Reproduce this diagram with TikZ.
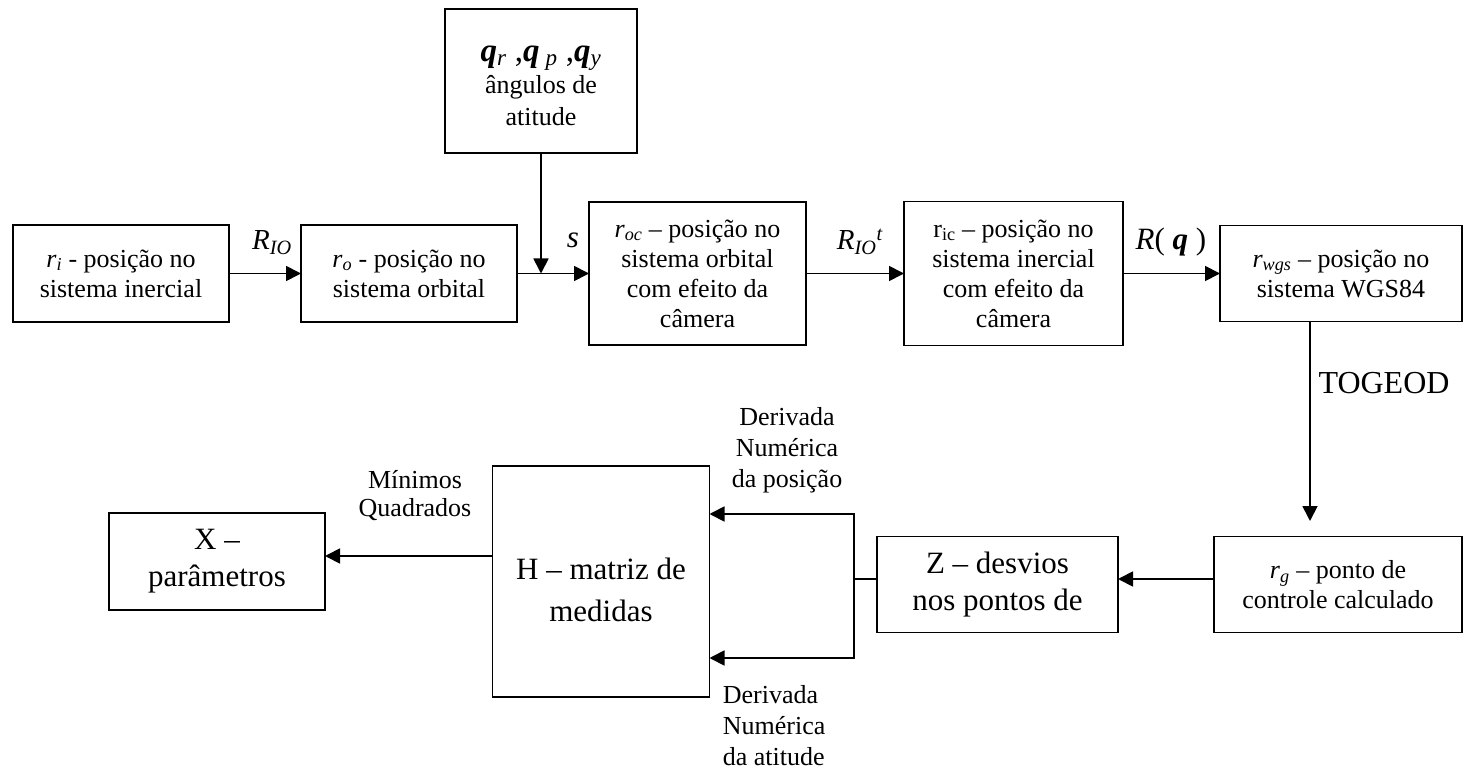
\documentclass[tikz,border=0pt]{standalone}
\usepackage{fontspec}
\setmainfont{Liberation Serif}
\usepackage{tikz}
\usetikzlibrary{positioning,arrows.meta}
\tikzset{>={Triangle[length=15pt,width=15pt]}}
\tikzset{
  blk/.style={draw=black, line width=1.8pt, align=center, inner sep=0pt, outer sep=0pt, font=\fontsize{26}{30}\selectfont},
  big/.style={blk, font=\fontsize{31}{37}\selectfont},
  lbl/.style={align=center, inner sep=0pt, font=\fontsize{26}{30}\selectfont},
}
\def\myit#1#2{\textit{#1}\textsubscript{\textit{#2}}}
\def\myq{\textbf{\textit{q}}}

\begin{document}
\begin{tikzpicture}[x=1pt, y=-1pt, line width=1.8pt]
          \useasboundingbox (0,0) rectangle (1465,770);
          \node[blk, minimum width=216pt, minimum height=97pt] (ri) at (121,273.5) {\myit{r}{i} - posição no\\sistema inercial};
          \node[blk, minimum width=216pt, minimum height=97pt, right=72pt of ri] (ro) {\myit{r}{o} - posição no\\sistema orbital};
          \node[blk, minimum width=217pt, minimum height=143pt, right=72pt of ro] (roc) {\myit{r}{oc} – posição no\\sistema orbital\\com efeito da\\câmera};
          \node[blk, minimum width=219pt, minimum height=144pt, right=98pt of roc] (ric) {r\textsubscript{ic} – posição no\\sistema inercial\\com efeito da\\câmera};
          \node[blk, minimum width=242pt, minimum height=96pt, right=97pt of ric] (wgs) {\myit{r}{wgs} – posição no\\sistema WGS84};
          \node[blk, minimum width=192pt, minimum height=144pt, text height=90pt, font=\fontsize{26}{32}\selectfont] (att) at (541,81) {{\fontsize{33}{33}\selectfont\myq\textsubscript{\textit{r}} ,\myq\textsubscript{ \textit{p}} ,\myq\textsubscript{\textit{y}}}\\ângulos de\\atitude};
          \node[blk, minimum width=248pt, minimum height=96pt, below=215pt of wgs.south east, anchor=north east] (rg) {\myit{r}{g} – ponto de\\controle calculado};
          \node[big, minimum width=241pt, minimum height=96pt, left=96pt of rg] (Z) {Z – desvios\\nos pontos de};
          \node[big, minimum width=217pt, minimum height=231pt, text height=80pt] (H) at (601,581.5) {H – matriz de\\[5pt]medidas};
          \node[big, minimum width=216pt, minimum height=97pt] (X) at (217,561.5) {X –\\parâmetros};

          \node[lbl, font=\fontsize{29}{30}\selectfont] (lrio) at (272,243) {\myit{R}{IO}};
          \node[lbl, font=\fontsize{31}{30}\selectfont] (ls) at (573,240) {\textit{s}};
          \node[lbl, font=\fontsize{29}{30}\selectfont] (lriot) at (860,242) {\textit{R}\textsubscript{\textit{IO}}\textsuperscript{\textit{t}}};
          \node[lbl, font=\fontsize{31}{30}\selectfont] (lrq) at (1171,242) {\textit{R}( \myq\ )};
          \node[lbl, font=\fontsize{32}{32}\selectfont] (ltog) at (1384,383) {TOGEOD};
          \node[lbl, font=\fontsize{26}{28}\selectfont] (lmq) at (415,496) {Mínimos\\Quadrados};
          \node[lbl, font=\fontsize{26}{31}\selectfont] (ldp) at (787,450) {Derivada\\Numérica\\da posição};
          \node[lbl, font=\fontsize{26}{31}\selectfont, align=left, anchor=west] (lda) at (722,726) {Derivada\\Numérica\\da atitude};

          \coordinate (jn) at (att.south |- ro.east);
          \coordinate (tg) at (1310,521);
          \coordinate (sp) at (854,579);

          \path[draw=black,->] (ri) edge (ro);
          \path[draw=black,->] (att) edge (jn);
          \path[draw=black,->] (ro) edge (roc);
          \path[draw=black,->] (roc) edge (ric);
          \path[draw=black,->] (ric) edge (wgs);
          \draw[->] (tg |- wgs.south) -- (tg);
          \draw[->] (rg.west |- sp) -- (Z.east |- sp);
          \draw (Z.west |- sp) -- (sp);
          \draw[->] (sp) |- ([yshift=67.5pt]H.east);
          \draw[->] (sp) |- ([yshift=-76.5pt]H.east);
          \draw[->] ([yshift=25.5pt]H.west) -- ([yshift=25.5pt]H.west -| X.east);
        \end{tikzpicture}
\end{document}
